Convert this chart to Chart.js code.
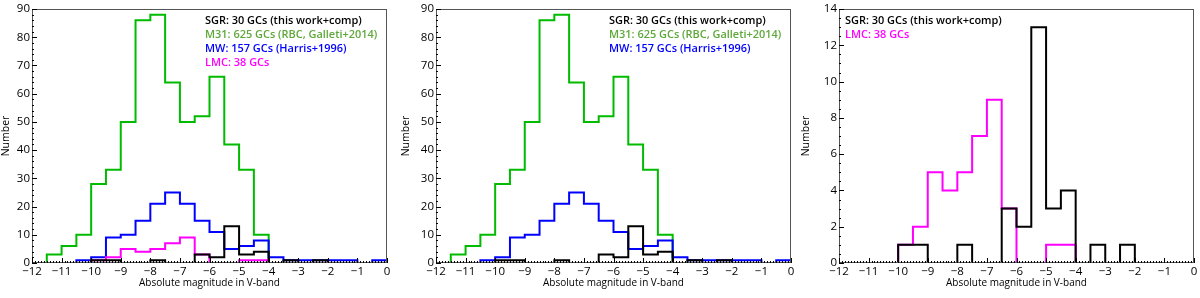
<!DOCTYPE html>
<html>
<head>
<meta charset="utf-8">
<script src="https://cdn.jsdelivr.net/npm/chart.js@4.4.1/dist/chart.umd.min.js"></script>
<style>
  html, body { margin: 0; padding: 0; background: #fff; }
  #wrap { position: relative; width: 1200px; height: 298px; }
  .pane { position: absolute; top: 0; width: 400px; height: 298px; }
</style>
</head>
<body>
<div id="wrap">
  <div class="pane" style="left:0px"><canvas id="c1"></canvas></div>
  <div class="pane" style="left:400px"><canvas id="c2"></canvas></div>
  <div class="pane" style="left:800px"><canvas id="c3"></canvas></div>
</div>
<script>
// Lower edges of the 0.5-mag bins (Absolute magnitude in V-band)
const binLowerEdges = [-12,-11.5,-11,-10.5,-10,-9.5,-9,-8.5,-8,-7.5,-7,-6.5,-6,-5.5,-5,-4.5,-4,-3.5,-3,-2.5,-2,-1.5,-1,-0.5];
const binWidth = 0.5;
// Number of GCs per bin
const m31Counts = [0,3,6,10,28,33,50,86,88,64,50,52,66,42,33,10,0,0,0,0,0,0,0,0];
const mwCounts  = [0,0,0,1,2,9,10,15,21,25,21,15,11,5,6,8,2,1,1,1,1,1,0,1];
const sgrCounts = [0,0,0,0,1,1,0,0,1,0,0,3,2,13,3,4,0,1,0,1,0,0,0,0];
const lmcCounts = [0,0,0,0,1,2,5,4,5,7,9,3,0,0,1,1,0,0,0,0,0,0,0,0];
// Labels
const sgrLabel = 'SGR: 30 GCs (this work+comp)';
const m31Label = 'M31: 625 GCs (RBC, Galleti+2014)';
const mwLabel  = 'MW: 157 GCs (Harris+1996)';
const lmcLabel = 'LMC: 38 GCs';
const xTitle = 'Absolute magnitude in V-band';
const yTitle = 'Number';
const xTickValues = [-12,-11,-10,-9,-8,-7,-6,-5,-4,-3,-2,-1,0];

const FONT = '"Open Sans", "DejaVu Sans", sans-serif';
const COL = { sgr:'#000000', m31:'#00bb00', m31Text:'#5ea83a', mw:'#0000ff', lmc:'#ff00ff' };

// Build histogram outline points from counts
function outline(counts) {
  const pts = [];
  let inRun = false;
  for (let i = 0; i < counts.length; i++) {
    const l = binLowerEdges[i], r = l + binWidth, v = counts[i];
    if (v > 0) {
      if (!inRun) { pts.push({x:l, y:0}); inRun = true; }
      pts.push({x:l, y:v}); pts.push({x:r, y:v});
    } else if (inRun) {
      pts.push({x:l, y:0}); pts.push({x:l, y:null}); inRun = false;
    }
  }
  if (inRun) pts.push({x: binLowerEdges[counts.length-1] + binWidth, y:0});
  return pts;
}

function ds(counts, color, order) {
  return { data: outline(counts), borderColor: color, borderWidth: 2, pointRadius: 0,
           fill: false, tension: 0, spanGaps: false, order: order };
}

function fmt(v) { return v < 0 ? '\u2212' + Math.abs(v) : String(v); }

// legend font size fitted so the first line spans ~157px
let legendFont = null;
function getLegendFont(ctx) {
  if (legendFont) return legendFont;
  ctx.save();
  ctx.font = '600 12px ' + FONT;
  const w = ctx.measureText(sgrLabel).width;
  ctx.restore();
  const size = Math.min(12.5, 12 * 157 / w);
  legendFont = '600 ' + size.toFixed(2) + 'px ' + FONT;
  return legendFont;
}

const frameTicks = {
  id: 'frameTicks',
  afterDatasetsDraw(chart, args, opts) {
    const ctx = chart.ctx, a = chart.chartArea, xs = chart.scales.x, ys = chart.scales.y;
    ctx.save();
    ctx.strokeStyle = '#555'; ctx.lineWidth = 1;
    ctx.strokeRect(a.left + 0.5, a.top + 0.5, a.right - a.left - 1, a.bottom - a.top - 1);
    ctx.strokeStyle = '#000';
    ctx.beginPath();
    for (let k = -120; k <= 0; k++) {
      const px = Math.round(xs.getPixelForValue(k / 10)) + 0.5;
      const len = (k % 10 === 0) ? 5 : 2;
      ctx.moveTo(px, a.bottom); ctx.lineTo(px, a.bottom - len);
    }
    const ymax = ys.max, ystep = opts.yMinor;
    for (let v = 0; v <= ymax + 1e-9; v += ystep) {
      const py = Math.round(ys.getPixelForValue(v)) + 0.5;
      const major = Math.abs(v / opts.yMajor - Math.round(v / opts.yMajor)) < 1e-6;
      ctx.moveTo(a.left, py); ctx.lineTo(a.left + (major ? 5 : 2), py);
    }
    ctx.stroke();
    // legend text
    ctx.font = getLegendFont(ctx);
    ctx.textBaseline = 'middle';
    opts.legend.forEach((it, i) => {
      ctx.fillStyle = it.color;
      ctx.fillText(it.text, opts.legendX, opts.legendY + i * 14);
    });
    ctx.restore();
  }
};

function makeChart(id, datasets, ymax, ystep, yMinor, pad, legend, legendX) {
  return new Chart(document.getElementById(id), {
    type: 'line',
    data: { datasets: datasets },
    options: {
      responsive: false, animation: false, devicePixelRatio: 1,
      layout: { padding: { left: 0, right: pad.right, top: pad.top, bottom: 0 } },
      plugins: { legend: { display: false }, tooltip: { enabled: false },
                 frameTicks: { legend: legend, legendX: legendX, legendY: 21, yMajor: ystep, yMinor: yMinor } },
      scales: {
        x: { type: 'linear', min: -12, max: 0,
             afterBuildTicks: s => { s.ticks = xTickValues.map(v => ({ value: v })); },
             afterFit: s => { s.height = 35; },
             grid: { display: false, drawTicks: false }, border: { display: false },
             ticks: { color: '#000', padding: 2, maxRotation: 0, autoSkip: false,
                      font: { family: FONT, size: 11.5, weight: '500' }, callback: v => fmt(v) },
             title: { display: true, text: xTitle, color: '#000', padding: { top: 0, bottom: 9 },
                      font: { family: FONT, size: 10 } } },
        y: { type: 'linear', min: 0, max: ymax,
             afterFit: s => { s.width = pad.left; },
             grid: { display: false, drawTicks: false }, border: { display: false },
             ticks: { color: '#000', padding: 2, stepSize: ystep,
                      font: { family: FONT, size: 11.5, weight: '500' } },
             title: { display: true, text: yTitle, color: '#000', padding: { top: 0, bottom: 0 },
                      font: { family: FONT, size: 10.5 } } }
      }
    },
    plugins: [frameTicks]
  });
}

['c1','c2','c3'].forEach(id => { const c = document.getElementById(id); c.width = 400; c.height = 298; });

makeChart('c1', [ds(sgrCounts, COL.sgr, 0), ds(lmcCounts, COL.lmc, 1), ds(mwCounts, COL.mw, 2), ds(m31Counts, COL.m31, 3)],
  90, 10, 2, { left: 32, right: 13, top: 9 },
  [{text: sgrLabel, color: COL.sgr}, {text: m31Label, color: COL.m31Text}, {text: mwLabel, color: COL.mw}, {text: lmcLabel, color: COL.lmc}], 205);

makeChart('c2', [ds(sgrCounts, COL.sgr, 0), ds(mwCounts, COL.mw, 2), ds(m31Counts, COL.m31, 3)],
  90, 10, 2, { left: 36, right: 9, top: 9 },
  [{text: sgrLabel, color: COL.sgr}, {text: m31Label, color: COL.m31Text}, {text: mwLabel, color: COL.mw}], 209);

makeChart('c3', [ds(sgrCounts, COL.sgr, 0), ds(lmcCounts, COL.lmc, 1)],
  14, 2, 0.5, { left: 39, right: 6, top: 9 },
  [{text: sgrLabel, color: COL.sgr}, {text: lmcLabel, color: COL.lmc}], 45);
</script>
</body>
</html>
